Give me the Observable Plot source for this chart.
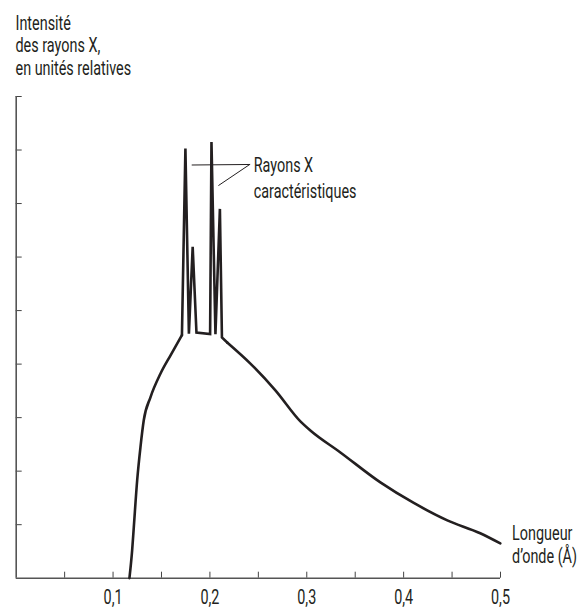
<!DOCTYPE html>
<html>
<head>
<meta charset="utf-8">
<script src="https://cdn.jsdelivr.net/npm/d3@7"></script>
<script src="https://cdn.jsdelivr.net/npm/@observablehq/plot@0.6"></script>
<style>
  html, body { margin: 0; padding: 0; background: #fff; }
  #chart svg { display: block; }
</style>
</head>
<body>
<div id="chart"></div>
<script>
// Wavelength (Å) and relative intensity
const wavelength = [0.1169, 0.1197, 0.1214, 0.1249, 0.1283, 0.1317, 0.1386, 0.1489, 0.1592, 0.1711,
  0.1747, 0.1783, 0.1822, 0.1861, 0.2002, 0.2016, 0.2057, 0.2103, 0.2124, 0.2181,
  0.2418, 0.2676, 0.2934, 0.3037, 0.3347, 0.3760, 0.4100, 0.4451, 0.4791, 0.4998];
const intensity = [0.00, 0.52, 0.95, 1.83, 2.45, 2.95, 3.38, 3.82, 4.16, 4.54,
  8.03, 4.57, 6.19, 4.59, 4.56, 8.15, 4.56, 6.90, 4.50, 4.40,
  4.01, 3.51, 2.93, 2.76, 2.35, 1.79, 1.41, 1.08, 0.84, 0.65];

// Axis ticks
const xTicks = [0.05, 0.1, 0.15, 0.2, 0.25, 0.3, 0.35, 0.4, 0.45, 0.5];
const xLabelTicks = [0.1, 0.2, 0.3, 0.4, 0.5];
const yTicks = [1, 2, 3, 4, 5, 6, 7, 8, 9];

// Texts
const yTitle = "Intensité\ndes rayons X,\nen unités relatives";
const xTitle = "Longueur\nd’onde (Å)";
const xTitlePos = [0.512, 1.02];
const noteText = "Rayons X\ncaractéristiques";
const notePos = [0.2452, 7.94];
// leader lines from the note to the two main spikes
const leaderA = [[0.1816, 7.72], [0.2411, 7.73]];
const leaderB = [[0.2091, 7.34], [0.2411, 7.73]];

const data = wavelength.map((w, i) => ({w, v: intensity[i]}));
const rise = data.slice(0, 10);      // continuous spectrum, short-wavelength side
const peaks = data.slice(9, 20);     // characteristic lines
const tail = data.slice(19);         // continuous spectrum, long-wavelength side

const fontStack = 'Roboto, "Liberation Sans", sans-serif';
const ink = "#231f20";
const fs = 20;
const lineOpts = {x: "w", y: "v", stroke: ink, strokeWidth: 2.6, strokeLinejoin: "miter", strokeMiterlimit: 20, strokeLinecap: "round"};

const chart = Plot.plot({
  width: 588,
  height: 612,
  marginLeft: 15.7,
  marginRight: 88,
  marginTop: 96,
  marginBottom: 34.3,
  style: {fontFamily: fontStack, fontSize: fs + "px", color: ink, background: "#fff"},
  x: {domain: [0, 0.5]},
  y: {domain: [0, 9]},
  marks: [
    Plot.axisX({ticks: xTicks, tickSize: -6, tickFormat: () => "", label: null, stroke: "#444"}),
    Plot.axisX({ticks: xLabelTicks, tickSize: 0, tickPadding: 12, label: null, fontSize: fs, fill: ink,
      tickFormat: d => d.toFixed(1).replace(".", ",")}),
    Plot.axisY({ticks: yTicks, tickSize: -6, tickFormat: () => "", label: null, stroke: "#444"}),
    Plot.ruleX([0], {stroke: "#555", strokeWidth: 1.6}),
    Plot.ruleY([0], {stroke: "#555", strokeWidth: 1.6}),
    Plot.line(rise, {...lineOpts, curve: "monotone-x"}),
    Plot.line(peaks, lineOpts),
    Plot.line(tail, {...lineOpts, curve: "monotone-x"}),
    Plot.line(leaderA, {x: d => d[0], y: d => d[1], stroke: ink, strokeWidth: 1}),
    Plot.line(leaderB, {x: d => d[0], y: d => d[1], stroke: ink, strokeWidth: 1}),
    Plot.text([noteText], {x: notePos[0], y: notePos[1], text: d => d, textAnchor: "start", lineAnchor: "top",
      fontSize: fs, lineHeight: 1.3, fill: ink}),
    Plot.text([xTitle], {x: xTitlePos[0], y: xTitlePos[1], text: d => d, textAnchor: "start", lineAnchor: "top",
      fontSize: fs, lineHeight: 1.15, fill: ink}),
    Plot.text([yTitle], {frameAnchor: "top-left", text: d => d, textAnchor: "start", lineAnchor: "top",
      dx: -0.7, dy: -83, fontSize: fs, lineHeight: 1.13, fill: ink})
  ]
});

// condense the type horizontally, like the narrow face of the original
const S = 0.72;
chart.querySelectorAll("text").forEach(t => {
  const x = +t.getAttribute("x") || 0, y = +t.getAttribute("y") || 0;
  const tr = t.getAttribute("transform") || "";
  t.setAttribute("transform", `${tr} translate(${x},${y}) scale(${S},1) translate(${-x},${-y})`);
});
document.getElementById("chart").appendChild(chart);
</script>
</body>
</html>
